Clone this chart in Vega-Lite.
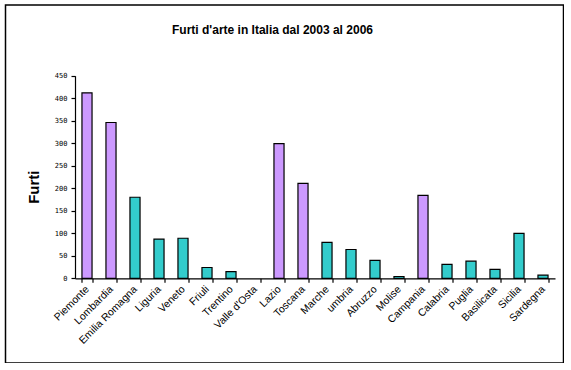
{
  "$schema": "https://vega.github.io/schema/vega-lite/v6.json",
  "autosize": {"type": "none"},
  "padding": {"left": 5.5, "top": 5, "right": 0, "bottom": 0},
  "width": 558,
  "height": 358,
  "background": "white",
  "title": {
    "text": "Furti d'arte in Italia dal 2003 al 2006",
    "font": "Liberation Sans",
    "fontSize": 12,
    "fontWeight": "bold",
    "color": "black",
    "anchor": "middle",
    "baseline": "middle",
    "offset": -37,
    "dx": -12
  },
  "data": {
    "values": [
      {"regione": "Piemonte", "furti": 412, "gruppo": "A"},
      {"regione": "Lombardia", "furti": 346, "gruppo": "A"},
      {"regione": "Emilia Romagna", "furti": 180, "gruppo": "B"},
      {"regione": "Liguria", "furti": 87, "gruppo": "B"},
      {"regione": "Veneto", "furti": 89, "gruppo": "B"},
      {"regione": "Friuli", "furti": 24, "gruppo": "B"},
      {"regione": "Trentino", "furti": 15, "gruppo": "B"},
      {"regione": "Valle d'Osta", "furti": null, "gruppo": "B"},
      {"regione": "Lazio", "furti": 299, "gruppo": "A"},
      {"regione": "Toscana", "furti": 211, "gruppo": "A"},
      {"regione": "Marche", "furti": 80, "gruppo": "B"},
      {"regione": "umbria", "furti": 64, "gruppo": "B"},
      {"regione": "Abruzzo", "furti": 40, "gruppo": "B"},
      {"regione": "Molise", "furti": 4, "gruppo": "B"},
      {"regione": "Campania", "furti": 184, "gruppo": "A"},
      {"regione": "Calabria", "furti": 31, "gruppo": "B"},
      {"regione": "Puglia", "furti": 38, "gruppo": "B"},
      {"regione": "Basilicata", "furti": 20, "gruppo": "B"},
      {"regione": "Sicilia", "furti": 100, "gruppo": "B"},
      {"regione": "Sardegna", "furti": 7, "gruppo": "B"}
    ]
  },
  "mark": {"type": "bar", "stroke": "black", "strokeWidth": 1.2},
  "encoding": {
    "x": {
      "field": "regione",
      "type": "nominal",
      "sort": null,
      "scale": {
        "domain": ["Piemonte", "Lombardia", "Emilia Romagna", "Liguria", "Veneto", "Friuli", "Trentino", "Valle d'Osta", "Lazio", "Toscana", "Marche", "umbria", "Abruzzo", "Molise", "Campania", "Calabria", "Puglia", "Basilicata", "Sicilia", "Sardegna"],
        "range": [69.5, 549.5],
        "paddingInner": 0.58,
        "paddingOuter": 0.29
      },
      "axis": {
        "title": null,
        "offset": -84.7,
        "domainColor": "black",
        "domainWidth": 1.2,
        "tickColor": "black",
        "tickWidth": 1.2,
        "tickSize": 4,
        "tickBand": "extent",
        "labelAngle": -45,
        "labelAlign": "right",
        "labelBaseline": "middle",
        "labelPadding": 5,
        "labelFont": "Liberation Sans",
        "labelFontSize": 10.5,
        "labelColor": "black",
        "labelOverlap": false
      }
    },
    "y": {
      "field": "furti",
      "type": "quantitative",
      "scale": {"domain": [0, 450], "range": [273.3, 70.7], "nice": false},
      "axis": {
        "title": "Furti",
        "titleFont": "Liberation Sans",
        "titleFontSize": 15,
        "titleFontWeight": "bold",
        "titleColor": "black",
        "titleX": -42,
        "titleY": 181.7,
        "titleAngle": -90,
        "titleAlign": "center",
        "titleBaseline": "middle",
        "offset": -69.5,
        "values": [0, 50, 100, 150, 200, 250, 300, 350, 400, 450],
        "grid": false,
        "domainColor": "black",
        "domainWidth": 1.2,
        "tickColor": "black",
        "tickWidth": 1.2,
        "tickSize": 4,
        "labelFont": "DejaVu Sans Mono",
        "labelFontSize": 7,
        "labelColor": "black",
        "labelPadding": 4
      }
    },
    "color": {
      "field": "gruppo",
      "type": "nominal",
      "scale": {"domain": ["A", "B"], "range": ["#CC99FF", "#33CCCC"]},
      "legend": null
    }
  },
  "config": {
    "view": {"stroke": "black", "strokeWidth": 1.5}
  }
}
